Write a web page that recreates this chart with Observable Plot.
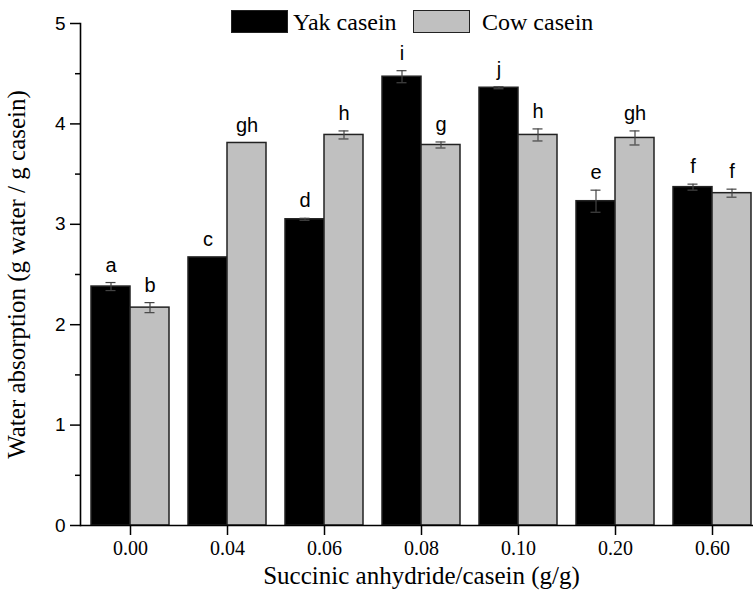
<!DOCTYPE html>
<html>
<head>
<meta charset="utf-8">
<script src="https://cdn.jsdelivr.net/npm/d3@7"></script>
<script src="https://cdn.jsdelivr.net/npm/@observablehq/plot@0.6"></script>
<style>
  html, body { margin: 0; padding: 0; background: #fff; overflow: hidden; }
  #wrap { position: relative; width: 753px; height: 599px; overflow: hidden; }
  #chart svg { max-width: none !important; }
  #legend { position: absolute; left: 0; top: 0; font-family: "Liberation Serif", "Times New Roman", serif; font-size: 24px; color: #000; }
  .sw { position: absolute; width: 55px; height: 21px; border: 1px solid #222; }
  .lt { position: absolute; line-height: 1; white-space: nowrap; }
</style>
</head>
<body>
<div id="wrap">
  <div id="chart"></div>
  <div id="legend">
    <div class="sw" style="left:231px;top:10px;background:#000;"></div>
    <div class="lt" style="left:293px;top:10px;">Yak casein</div>
    <div class="sw" style="left:413px;top:10px;background:#c0c0c0;"></div>
    <div class="lt" style="left:482px;top:10px;">Cow casein</div>
  </div>
</div>
<script>
const doses = ["0.00", "0.04", "0.06", "0.08", "0.10", "0.20", "0.60"];
const yakMean = [2.38, 2.67, 3.05, 4.47, 4.36, 3.23, 3.37];
const yakErr = [0.04, 0.0, 0.01, 0.06, 0.01, 0.11, 0.03];
const yakLetters = ["a", "c", "d", "i", "j", "e", "f"];
const cowMean = [2.17, 3.81, 3.89, 3.79, 3.89, 3.86, 3.31];
const cowErr = [0.05, 0.0, 0.04, 0.03, 0.06, 0.07, 0.04];
const cowLetters = ["b", "gh", "h", "g", "h", "gh", "f"];
const yTicks = [0, 1, 2, 3, 4, 5];
const yMinorTicks = [0.5, 1.5, 2.5, 3.5, 4.5];
const xTitle = "Succinic anhydride/casein (g/g)";
const yTitle = "Water absorption (g water / g casein)";

const yak = doses.map((d, i) => ({dose: d, mean: yakMean[i], err: yakErr[i], letter: yakLetters[i]}));
const cow = doses.map((d, i) => ({dose: d, mean: cowMean[i], err: cowErr[i], letter: cowLetters[i]}));

const sans = "'Liberation Sans', Arial, sans-serif";
const serif = "'Liberation Serif', 'Times New Roman', serif";
const half = 19.5;

function errMarks(rows, dx) {
  const hasErr = rows.filter(r => r.err > 0);
  return [
    Plot.ruleX(hasErr, {x: "dose", y1: r => r.mean - r.err, y2: r => r.mean + r.err, dx, stroke: "#444", strokeWidth: 1.2}),
    Plot.tickY(hasErr, {x: "dose", y: r => r.mean + r.err, dx, insetLeft: 34, insetRight: 34, stroke: "#444", strokeWidth: 1.2}),
    Plot.tickY(hasErr, {x: "dose", y: r => r.mean - r.err, dx, insetLeft: 34, insetRight: 34, stroke: "#444", strokeWidth: 1.2}),
    Plot.text(rows, {x: "dose", y: r => r.mean + r.err, text: "letter", dx, dy: -11, lineAnchor: "bottom", fontSize: 20, fontFamily: sans, fill: "#000"})
  ];
}

const chart = Plot.plot({
  width: 765,
  height: 599,
  marginLeft: 80,
  marginRight: 3,
  marginTop: 23,
  marginBottom: 74,
  style: {background: "transparent", overflow: "visible", maxWidth: "none"},
  x: {domain: doses, paddingInner: 0.2, paddingOuter: 0.1, axis: null},
  y: {domain: [0, 5], axis: null},
  marks: [
    Plot.barY(yak, {x: "dose", y: "mean", fill: "#000", stroke: "#222", strokeWidth: 1.5, insetRight: 39}),
    Plot.barY(cow, {x: "dose", y: "mean", fill: "#c0c0c0", stroke: "#222", strokeWidth: 1.5, insetLeft: 39}),
    ...errMarks(yak, -half),
    ...errMarks(cow, half),
    Plot.frame({anchor: "left", stroke: "#000", strokeWidth: 1.6}),
    Plot.ruleY([0], {stroke: "#000", strokeWidth: 1.6}),
    Plot.axisY({ticks: yTicks, tickFormat: d => String(d), tickSize: 10, tickPadding: 5, fontSize: 19, fontFamily: sans, label: null, stroke: "#000", strokeWidth: 1.5, color: "#000"}),
    Plot.axisY({ticks: yMinorTicks, tickSize: 5, tickFormat: () => "", label: null, stroke: "#000", strokeWidth: 1.5}),
    Plot.axisX({tickSize: 10, tickPadding: 5, fontSize: 20, fontFamily: serif, label: null, stroke: "#000", strokeWidth: 1.5, color: "#000"}),
    Plot.text([xTitle], {frameAnchor: "bottom", dy: 58, lineAnchor: "bottom", fontSize: 25, fontFamily: serif, fill: "#000"}),
    Plot.text([yTitle], {frameAnchor: "left", dx: -64, rotate: -90, textAnchor: "middle", lineAnchor: "middle", fontSize: 25, fontFamily: serif, fill: "#000"})
  ]
});
document.getElementById("chart").appendChild(chart);
</script>
</body>
</html>
